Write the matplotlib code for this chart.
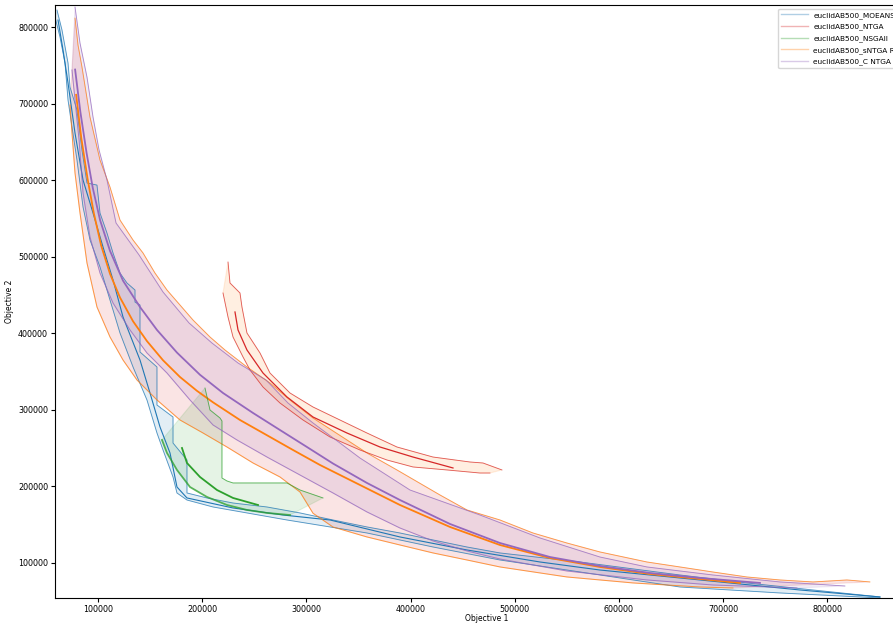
import matplotlib.pyplot as plt
import numpy as np
from matplotlib.lines import Line2D

# fronts, values in thousands (objective 1, objective 2)

# MOEANSM
moeansm_upper = [(60.6, 822.8), (65.4, 796.7), (71.2, 753.5), (73.1, 722.1), (79.8, 692.1), (84.6, 639.8),
                 (89.4, 596.7), (99.0, 594.0), (101.9, 557.5), (108.6, 531.3), (114.4, 505.2), (121.1, 479.0),
                 (127.8, 466.0), (135.5, 456.8), (135.5, 441.1), (140.3, 437.2), (140.3, 375.8), (156.6, 356.2),
                 (156.6, 306.5), (172.0, 290.8), (172.0, 256.8), (185.4, 234.6), (185.4, 191.5), (204.6, 185.0),
                 (229.6, 178.4), (262.2, 173.2), (293.9, 165.4), (325.6, 156.2), (358.2, 147.1), (389.9, 139.2),
                 (421.6, 130.1), (454.2, 120.9), (485.9, 113.1), (562.7, 101.3), (658.7, 84.3), (723.0, 73.9),
                 (786.4, 64.7), (850.7, 55.6)]
moeansm_lower = [(58.7, 813.6), (63.5, 787.5), (68.3, 753.5), (71.2, 705.1), (75.0, 669.9), (79.8, 626.7),
                 (85.6, 565.3), (92.3, 522.2), (101.9, 486.9), (111.5, 443.7), (121.1, 400.6), (133.6, 356.2),
                 (147.0, 313.0), (156.6, 269.9), (162.4, 247.7), (172.0, 212.4), (175.8, 191.5), (185.4, 182.3),
                 (210.4, 173.2), (243.0, 165.4), (281.4, 156.2), (322.7, 147.1), (358.2, 139.2), (421.6, 120.9),
                 (485.9, 103.9), (550.2, 90.8), (658.7, 68.6), (754.7, 60.8), (850.7, 54.3)]
moeansm_median = [(61.6, 809.7), (66.4, 770.5), (71.2, 727.4), (77.9, 662.0), (85.6, 600.6), (95.2, 557.5),
                  (104.8, 513.0), (114.4, 469.9), (124.0, 421.5), (140.3, 365.3), (149.9, 322.2), (159.5, 277.8),
                  (169.1, 243.8), (175.8, 199.3), (185.4, 185.0), (229.6, 171.9), (277.6, 162.7), (322.7, 156.2),
                  (389.9, 134.0), (454.2, 117.0), (524.3, 101.3), (581.9, 90.8), (677.9, 77.8), (773.9, 64.7),
                  (850.7, 55.6)]

# NTGA
ntga_upper = [(77.9, 812.3), (80.8, 777.0), (84.6, 748.3), (92.3, 682.9), (101.9, 626.7), (111.5, 591.4),
              (121.1, 548.3), (133.6, 522.2), (143.2, 505.2), (154.7, 479.0), (166.2, 456.8), (178.7, 437.2),
              (191.2, 417.6), (207.5, 395.4), (221.9, 378.4), (243.0, 356.2), (265.1, 335.3), (284.3, 313.0),
              (306.4, 289.5), (339.0, 260.8), (358.2, 243.8), (387.0, 221.6), (428.3, 188.9), (454.2, 169.3),
              (485.9, 156.2), (517.6, 139.2), (550.2, 126.1), (581.9, 114.4), (627.0, 101.3), (658.7, 94.8),
              (690.4, 88.2), (723.0, 81.7), (754.7, 77.8), (786.4, 75.2), (819.0, 77.8), (841.1, 75.2)]
ntga_lower = [(73.1, 698.6), (75.0, 662.0), (77.9, 609.7), (82.7, 557.5), (89.4, 492.1), (99.0, 434.6),
              (111.5, 395.4), (124.0, 365.3), (137.4, 339.2), (156.6, 313.1), (178.7, 286.9), (200.8, 269.9),
              (223.8, 251.6), (248.8, 230.7), (274.7, 212.4), (293.9, 192.8), (306.4, 165.0), (325.6, 147.0),
              (358.2, 134.0), (389.9, 123.5), (421.6, 113.1), (454.2, 103.9), (485.9, 94.8), (550.2, 81.7),
              (613.6, 73.9), (677.9, 68.6), (709.6, 67.3)]
ntga_median = [(79.0, 712.0), (84.0, 655.0), (90.0, 602.0), (96.0, 557.0), (103.0, 515.0), (111.5, 478.0),
               (121.1, 447.0), (133.6, 416.0), (147.0, 390.0), (162.4, 365.0), (178.7, 343.1), (195.0, 325.0),
               (210.4, 310.0), (236.3, 286.9), (258.4, 269.9), (287.2, 247.7), (313.1, 228.1), (341.9, 208.5),
               (389.9, 175.8), (437.9, 147.1), (485.9, 123.5), (533.9, 106.5), (581.9, 94.8), (629.9, 85.6),
               (677.9, 79.1), (716.3, 73.9)]

# NSGAII
nsgaii_upper = [(202.7, 328.7), (207.5, 300.0), (217.1, 289.5), (219.0, 285.6), (219.0, 211.1), (223.8, 207.2),
                (229.6, 204.6), (281.4, 204.6), (293.9, 195.4), (316.0, 185.0)]
nsgaii_lower = [(161.4, 260.8), (166.2, 243.8), (175.8, 221.6), (188.3, 199.3), (204.6, 186.3), (223.8, 175.8),
                (243.0, 169.3), (262.2, 165.4), (284.3, 162.7)]
nsgaii_median = [(180.6, 250.3), (185.4, 230.7), (197.9, 212.4), (214.2, 195.4), (229.6, 185.0), (253.6, 175.8)]

# sNTGA RAND
sntga_upper = [(224.8, 493.4), (226.7, 466.0), (236.3, 452.9), (238.2, 434.6), (243.0, 400.6), (255.5, 374.5),
               (265.1, 348.3), (284.3, 322.2), (306.4, 303.9), (332.3, 286.9), (358.2, 269.9), (387.0, 251.6),
               (421.6, 238.5), (457.1, 232.0), (469.6, 230.7), (487.8, 221.6)]
sntga_lower = [(220.0, 452.9), (224.8, 421.5), (229.6, 395.4), (239.2, 369.3), (245.9, 352.3), (258.4, 330.0),
               (274.7, 309.1), (296.8, 286.9), (322.7, 264.7), (351.5, 247.7), (377.4, 234.6), (402.4, 225.5),
               (435.0, 221.6), (466.7, 217.6), (476.3, 217.6)]
sntga_median = [(231.5, 428.1), (234.4, 404.6), (243.0, 378.4), (258.4, 348.3), (281.4, 317.0), (306.4, 290.8),
                (339.0, 269.9), (370.7, 251.6), (402.4, 238.5), (440.8, 224.2)]

# C NTGA
cntga_upper = [(77.9, 826.7), (82.7, 779.6), (89.4, 735.2), (95.2, 682.9), (101.0, 639.8), (108.6, 600.6),
               (117.3, 544.4), (139.4, 502.6), (162.4, 454.2), (187.4, 413.7), (209.4, 387.5), (234.4, 361.4),
               (261.3, 339.2), (282.4, 309.1), (306.4, 283.0), (332.3, 256.8), (351.5, 237.2), (399.5, 195.4),
               (466.7, 162.7), (524.3, 132.7), (581.9, 107.8), (627.0, 94.8), (690.4, 84.3), (754.7, 75.2),
               (786.4, 72.6), (817.1, 69.9)]
cntga_lower = [(75.0, 744.4), (77.9, 705.1), (81.8, 652.9), (85.6, 583.6), (92.3, 526.1), (101.9, 479.0),
               (114.4, 439.8), (130.7, 404.6), (147.0, 374.5), (166.2, 348.3), (188.3, 313.1), (210.4, 280.4),
               (233.4, 260.8), (262.2, 238.5), (293.9, 215.0), (325.6, 191.5), (358.2, 166.7), (389.9, 145.7),
               (421.6, 128.8), (454.2, 115.7), (485.9, 105.2), (517.6, 97.4), (550.2, 89.5), (627.0, 77.8),
               (690.4, 71.2), (771.0, 67.3)]
cntga_median = [(78.0, 745.0), (83.0, 690.0), (89.0, 636.0), (95.0, 590.0), (102.0, 548.0), (111.5, 508.0),
                (124.0, 469.0), (140.3, 434.6), (156.6, 404.6), (175.8, 375.0), (197.9, 346.0), (220.0, 322.2),
                (248.8, 296.1), (274.7, 273.8), (300.6, 251.6), (325.6, 230.0), (358.2, 204.6), (389.9, 182.3),
                (437.9, 151.0), (485.9, 126.1), (533.9, 107.8), (581.9, 96.1), (629.9, 86.9), (677.9, 80.4),
                (735.5, 73.9)]

# name, upper, lower, median, line colour, fill colour, median width, lower width
series = [
    ("euclidAB500_MOEANSM", moeansm_upper, moeansm_lower, moeansm_median, "tab:blue", "tab:blue", 0.8, 0.6),
    ("euclidAB500_NTGA", ntga_upper, ntga_lower, ntga_median, "tab:orange", "tab:red", 1.3, 0.7),
    ("euclidAB500_NSGAII", nsgaii_upper, nsgaii_lower, nsgaii_median, "tab:green", "tab:green", 1.3, 1.3),
    ("euclidAB500_sNTGA RAND", sntga_upper, sntga_lower, sntga_median, "tab:red", "tab:orange", 0.9, 0.6),
    ("euclidAB500_C NTGA", cntga_upper, cntga_lower, cntga_median, "tab:purple", "tab:purple", 1.3, 0.7),
]

fig = plt.figure(figsize=(8.93, 6.24), dpi=100)
ax = fig.add_axes([0.0616, 0.0417, 0.966, 0.9503])

handles = []
for name, up, low, med, lc, fc, mw, lw_low in series:
    up = np.array(up) * 1000
    low = np.array(low) * 1000
    med = np.array(med) * 1000
    poly = np.vstack([low, up[::-1]])
    ax.fill(poly[:, 0], poly[:, 1], facecolor=fc, edgecolor=fc, alpha=0.12, lw=0.8)
    ax.plot(up[:, 0], up[:, 1], color=lc, lw=0.6, alpha=0.75)
    ax.plot(low[:, 0], low[:, 1], color=lc, lw=lw_low, alpha=0.75)
    ax.plot(med[:, 0], med[:, 1], color=lc, lw=mw)
    handles.append(Line2D([], [], color=fc, lw=1, alpha=0.35, label=name))

ax.set_xlim(58700, 886900)
ax.set_ylim(54250, 829400)
ax.set_xticks(np.arange(100000, 900000, 100000))
ax.set_yticks(np.arange(100000, 900000, 100000))
ax.tick_params(labelsize=5.8, length=3, pad=2)
ax.set_xlabel("Objective 1", fontsize=5.5, labelpad=0)
ax.set_ylabel("Objective 2", fontsize=5.5, labelpad=3)
ax.legend(handles=handles, loc="upper right", fontsize=5.3, handlelength=3.6, labelspacing=0.65)

fig.savefig("out.png", dpi=100)
